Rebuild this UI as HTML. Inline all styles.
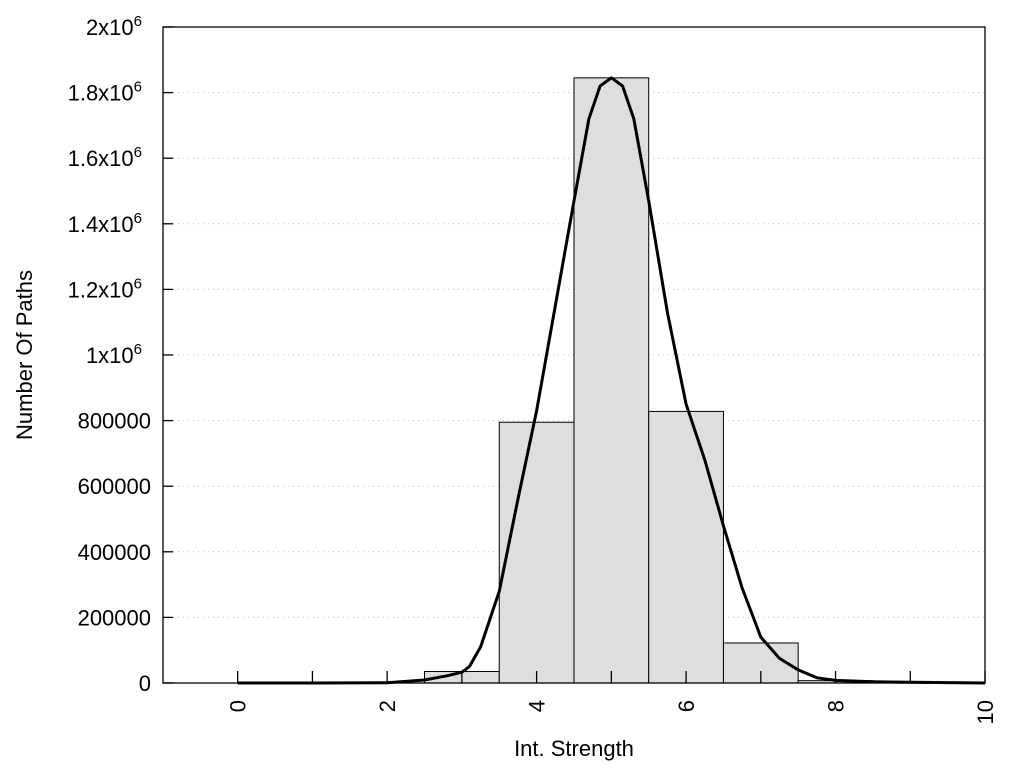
<!DOCTYPE html>
<html><head><style>body{margin:0;background:#fff}svg{display:block}text{font-family:"Liberation Sans",sans-serif;fill:#000}</style></head><body>
<svg id="s" width="1024" height="768" xmlns="http://www.w3.org/2000/svg">
<g id="grid" stroke="#bbb" stroke-width="1" stroke-dasharray="1,4"></g>
<g id="bars" fill="#dedede" stroke="#000" stroke-width="1"></g>
<polyline id="curve" fill="none" stroke="#000" stroke-width="3" stroke-linejoin="round"/>
<rect x="163" y="27" width="822" height="656" fill="none" stroke="#000" stroke-width="1.3"/>
<g id="ticks" stroke="#000" stroke-width="1.3"></g>
<g id="lab" font-size="22"></g>
<text x="574" y="756" font-size="22" text-anchor="middle">Int. Strength</text>
<text transform="translate(32,355) rotate(-90)" font-size="22" text-anchor="middle">Number Of Paths</text>
</svg>
<script>
const X=v=>237.7+74.73*v, Y=n=>683-n*328e-6;
const ns="http://www.w3.org/2000/svg";
function el(p,t,a,txt){const e=document.createElementNS(ns,t);for(const k in a)e.setAttribute(k,a[k]);if(txt!==undefined)e.innerHTML=txt;document.getElementById(p).appendChild(e);}
for(let i=1;i<10;i++){const y=Y(i*2e5);el('grid','line',{x1:173,x2:985,y1:y,y2:y});}
const b={3:35000,4:795000,5:1845000,6:828000,7:122000,8:7000};
for(const k in b){const v=+k;el('bars','rect',{x:X(v-.5),y:Y(b[k]),width:74.73,height:683-Y(b[k])});}
for(let i=0;i<=10;i++){el('ticks','line',{x1:X(i),x2:X(i),y1:683,y2:671});}
for(let i=0;i<=10;i++){const y=Y(i*2e5);el('ticks','line',{x1:163,x2:173,y1:y,y2:y});}
const sup='<tspan dy="-9" font-size="15">6</tspan>';
const yl=['0','200000','400000','600000','800000','1x10'+sup,'1.2x10'+sup,'1.4x10'+sup,'1.6x10'+sup,'1.8x10'+sup,'2x10'+sup];
yl.forEach((t,i)=>{const y=Y(i*2e5)+8;const w=i>=5?9:0;el('lab','text',{x:151-w,y:y,'text-anchor':'end'},t);});
for(let i=0;i<=10;i+=2){el('lab','text',{transform:`translate(${X(i)+8},700) rotate(-90)`,'text-anchor':'end'},String(i));}
const P=[[0,0],[1,0],[2,1000],[2.5,9000],[2.8,22000],[3,33000],[3.1,50000],[3.25,110000],[3.5,280000],[3.75,560000],[4,830000],[4.25,1150000],[4.5,1470000],[4.7,1720000],[4.85,1820000],[5,1845000],[5.15,1820000],[5.3,1720000],[5.5,1470000],[5.75,1130000],[6,850000],[6.25,680000],[6.5,480000],[6.75,290000],[7,140000],[7.25,75000],[7.5,40000],[7.75,16000],[8,8000],[8.5,4000],[9,2000],[10,0]];
document.getElementById('curve').setAttribute('points',P.map(p=>X(p[0]).toFixed(1)+','+Y(p[1]).toFixed(1)).join(' '));
</script>
</body></html>
